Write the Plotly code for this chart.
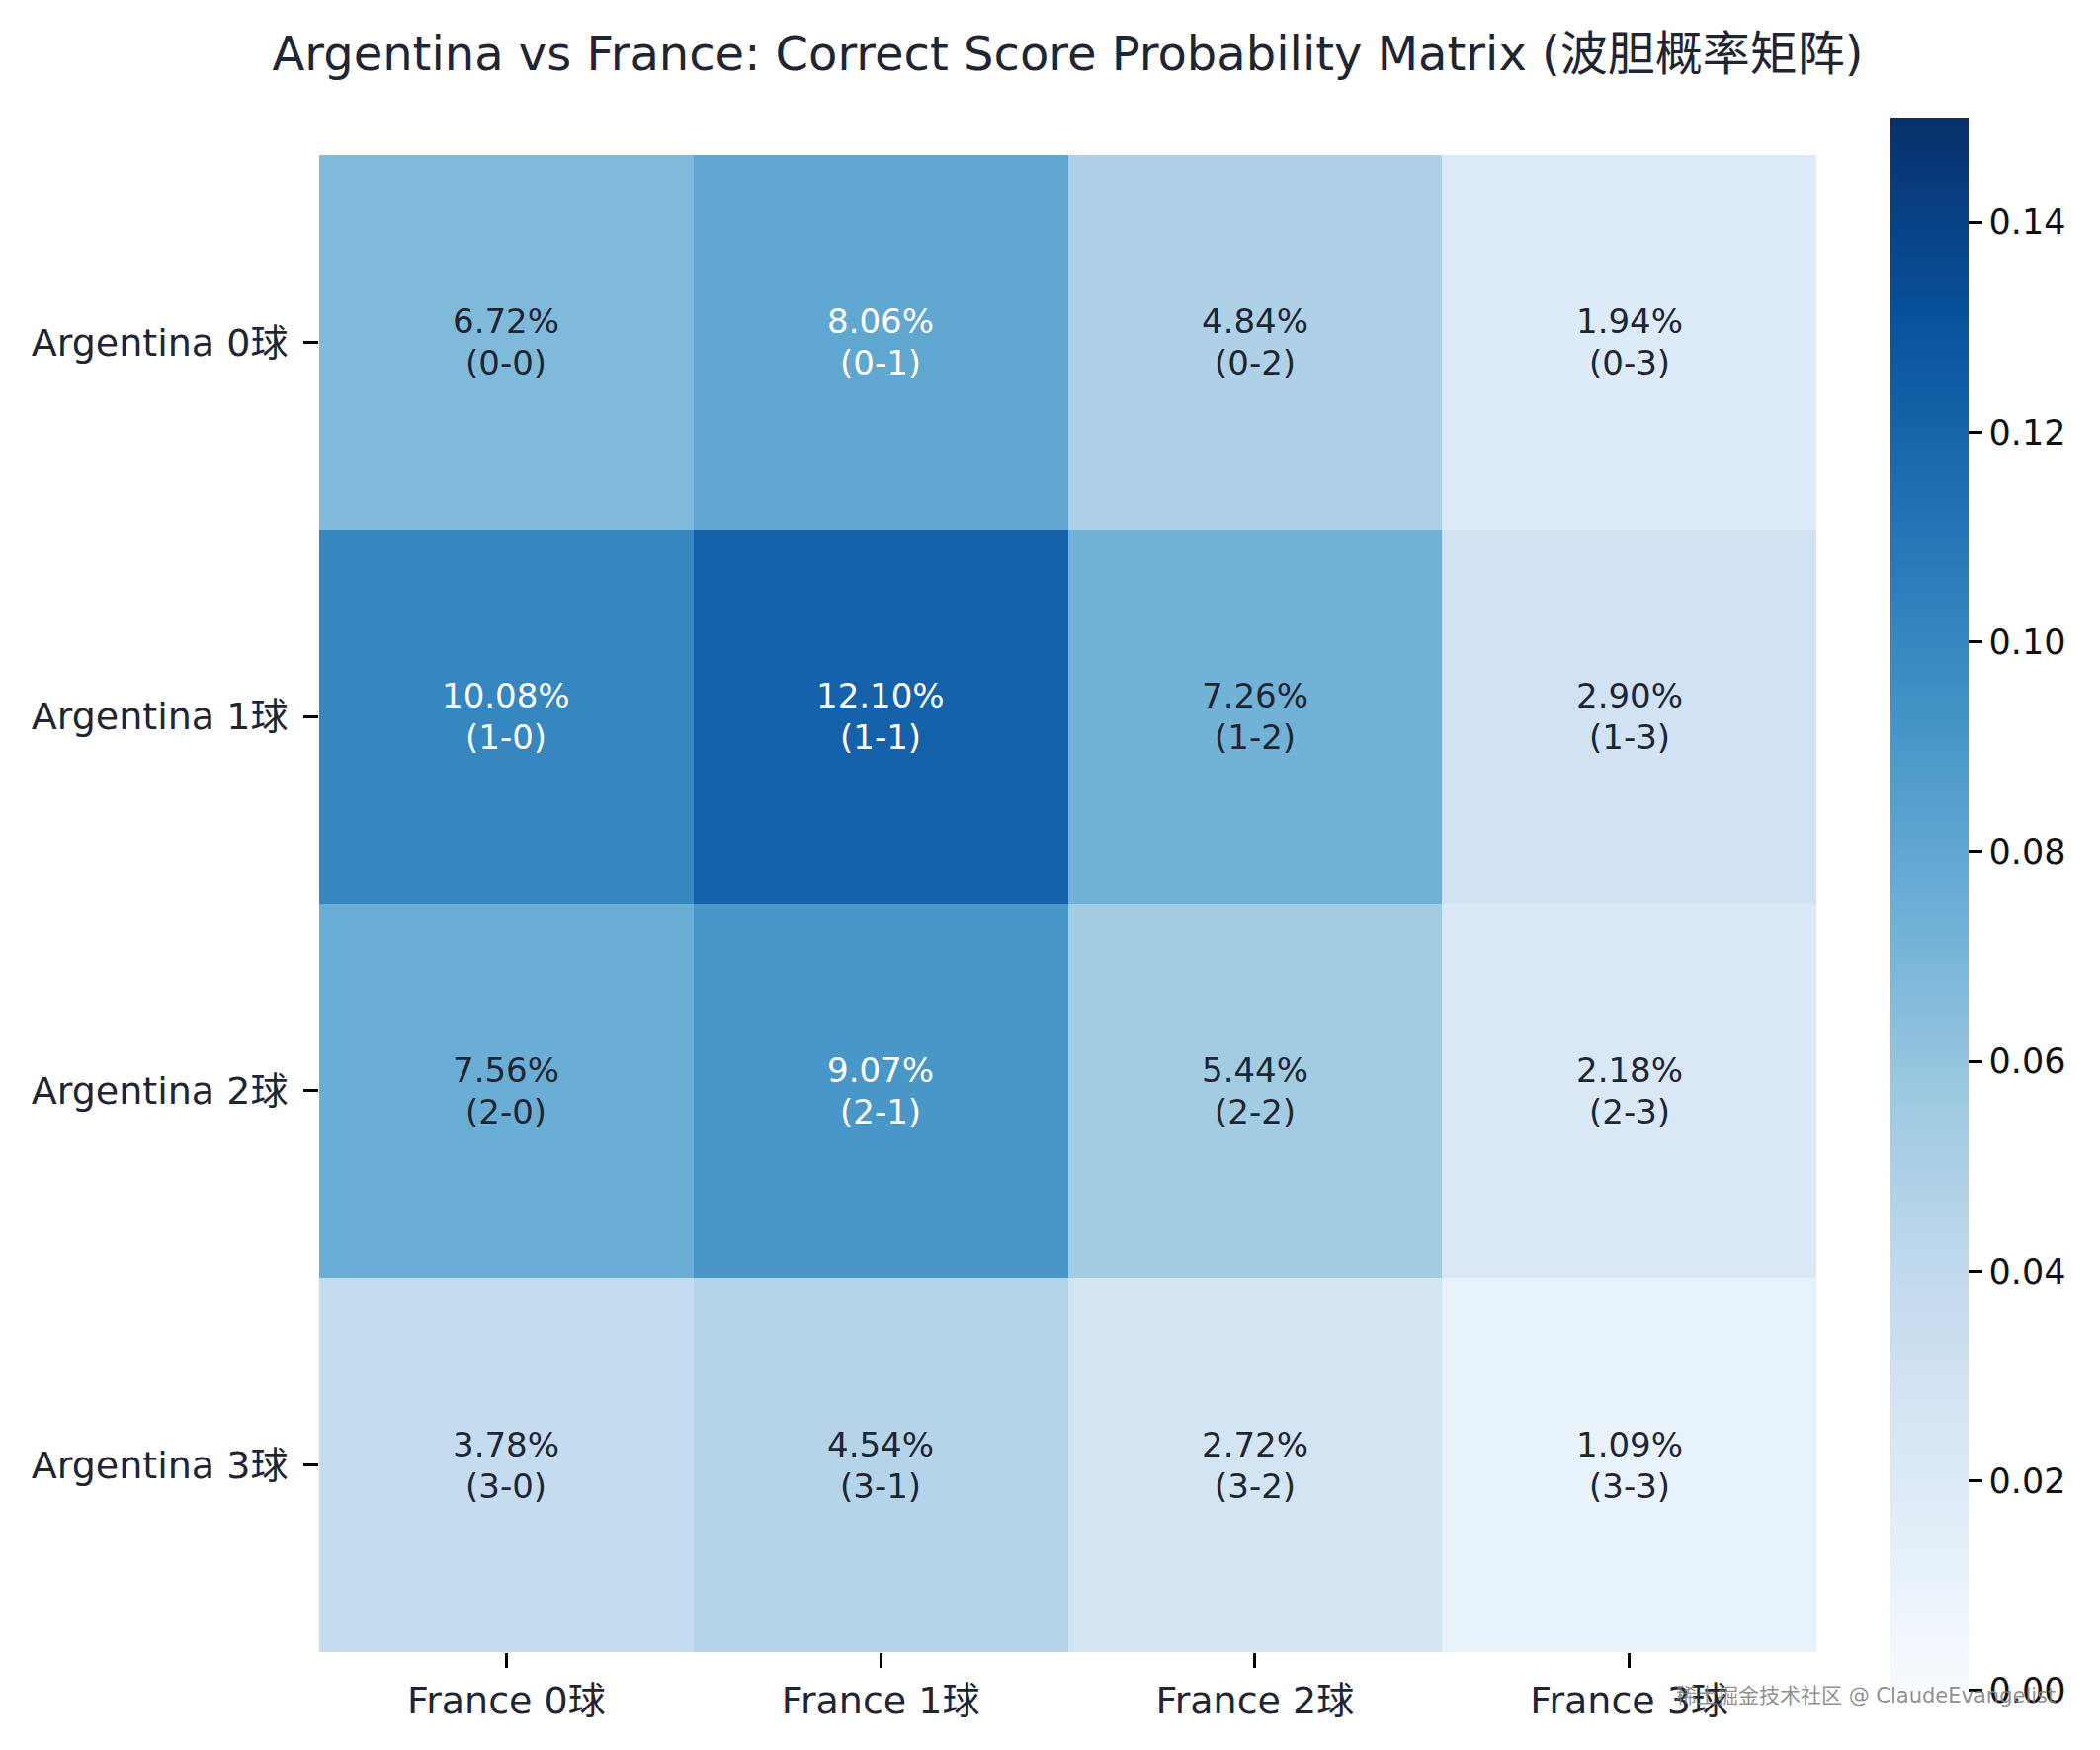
import plotly.graph_objects as go

# ---- data ----
france_labels = ["France 0球", "France 1球", "France 2球", "France 3球"]
argentina_labels = ["Argentina 0球", "Argentina 1球", "Argentina 2球", "Argentina 3球"]
row_arg0 = [0.0672, 0.0806, 0.0484, 0.0194]
row_arg1 = [0.1008, 0.1210, 0.0726, 0.0290]
row_arg2 = [0.0756, 0.0907, 0.0544, 0.0218]
row_arg3 = [0.0378, 0.0454, 0.0272, 0.0109]
probs = [row_arg0, row_arg1, row_arg2, row_arg3]
cbar_ticks = [0.00, 0.02, 0.04, 0.06, 0.08, 0.10, 0.12, 0.14]
zmin, zmax = 0.0, 0.15

blues = ['rgb(247,251,255)', 'rgb(222,235,247)', 'rgb(198,219,239)', 'rgb(158,202,225)',
         'rgb(107,174,214)', 'rgb(66,146,198)', 'rgb(33,113,181)', 'rgb(8,81,156)', 'rgb(8,48,107)']
colorscale = [[i / (len(blues) - 1), c] for i, c in enumerate(blues)]

FONT = "DejaVu Sans, Noto Sans CJK SC"
DARK = "#1f2533"
W, H = 2125, 1771

fig = go.Figure()
fig.add_trace(go.Heatmap(
    z=probs, x=france_labels, y=argentina_labels,
    zmin=zmin, zmax=zmax, colorscale=colorscale,
    hoverinfo="skip",
    colorbar=dict(
        xref="container", yref="container",
        x=1913 / W, xanchor="left", xpad=0,
        y=1 - 139 / H, yanchor="top", ypad=0,
        len=1592, lenmode="pixels",
        thickness=79, outlinewidth=0,
        tickmode="array",
        tickvals=cbar_ticks, ticktext=[f"{t:.2f}" for t in cbar_ticks],
        ticklabeloverflow="allow",
        ticks="outside", ticklen=14, tickwidth=2.5, tickcolor="black",
        tickfont=dict(family=FONT, size=35, color="#111111"),
    ),
))

annotations = []
for i, row in enumerate(probs):
    for j, v in enumerate(row):
        col = "white" if v >= 0.078 else DARK
        for txt, shift in ((f"{v*100:.2f}%", 21), (f"({i}-{j})", -21)):
            annotations.append(dict(
                x=france_labels[j], y=argentina_labels[i], xref="x", yref="y",
                text=txt, showarrow=False, yshift=shift,
                font=dict(family=FONT, size=34, color=col),
            ))

annotations.append(dict(
    xref="paper", yref="paper", x=(1694 - 323) / 1515, y=-(1716 - 1672) / 1515,
    xanchor="left", yanchor="middle", showarrow=False,
    text="稀土掘金技术社区 @ ClaudeEvangelist",
    font=dict(family=FONT, size=21, color="rgba(130,130,130,0.9)"),
))

fig.update_layout(
    width=W, height=H,
    margin=dict(l=323, r=W - 1838, t=157, b=H - 1672),
    paper_bgcolor="white", plot_bgcolor="white",
    title=dict(
        text="Argentina vs France: Correct Score Probability Matrix (波胆概率矩阵)",
        x=1080.5 / W, xanchor="center", xref="container",
        y=1 - 54 / H, yanchor="middle", yref="container",
        font=dict(family=FONT, size=48, color=DARK),
    ),
    annotations=annotations,
)
fig.update_xaxes(
    showgrid=False, zeroline=False, showline=False,
    ticks="outside", ticklen=15, tickwidth=2.5, tickcolor="black",
    tickfont=dict(family=FONT, size=38, color=DARK),
)
fig.update_yaxes(
    showgrid=False, zeroline=False, showline=False, autorange="reversed",
    ticks="outside", ticklen=15, tickwidth=2.5, tickcolor="black",
    ticklabelstandoff=8,
    tickfont=dict(family=FONT, size=38, color=DARK),
)

fig.write_html("out.html")
